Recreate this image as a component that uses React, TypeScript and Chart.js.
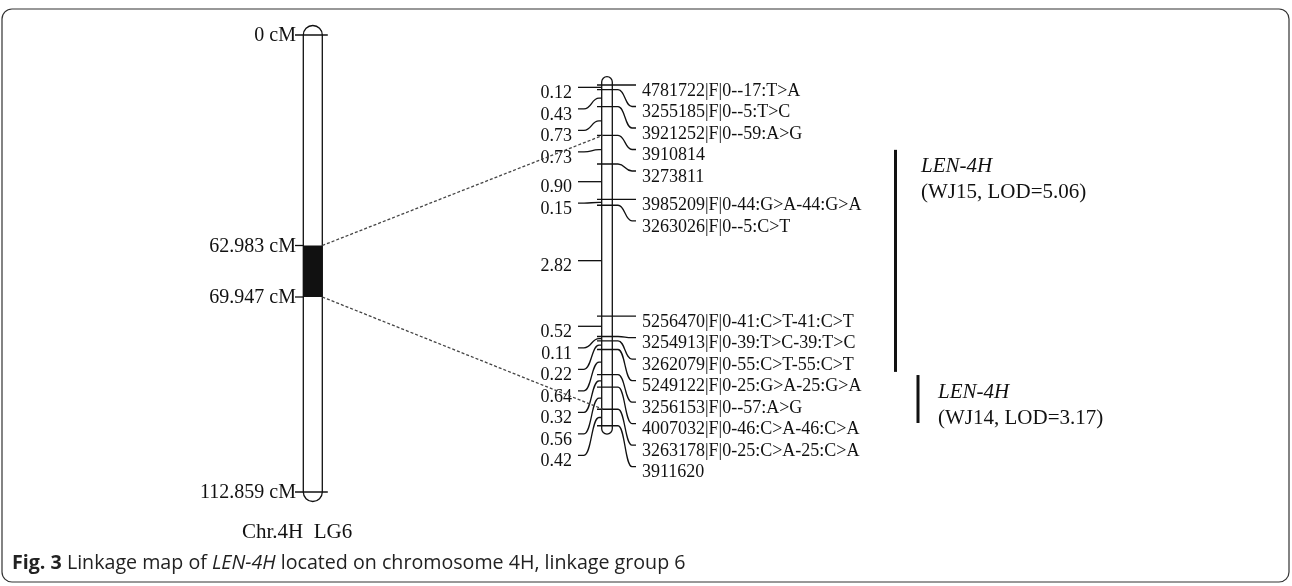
import React, { useEffect, useRef } from "react";
import { Chart, registerables } from "chart.js";

Chart.register(...registerables);

// ---------- DATA ----------
// Interval lengths (cM) between consecutive markers of LG6
const INTERVALS = [0.12, 0.43, 0.73, 0.73, 0.9, 0.15, 2.82, 0.52, 0.11, 0.22, 0.64, 0.32, 0.56, 0.42];
const MARKERS = [
  "4781722|F|0--17:T>A",
  "3255185|F|0--5:T>C",
  "3921252|F|0--59:A>G",
  "3910814",
  "3273811",
  "3985209|F|0-44:G>A-44:G>A",
  "3263026|F|0--5:C>T",
  "5256470|F|0-41:C>T-41:C>T",
  "3254913|F|0-39:T>C-39:T>C",
  "3262079|F|0-55:C>T-55:C>T",
  "5249122|F|0-25:G>A-25:G>A",
  "3256153|F|0--57:A>G",
  "4007032|F|0-46:C>A-46:C>A",
  "3263178|F|0-25:C>A-25:C>A",
  "3911620",
];
// Chromosome 4H ticks (cM) and labels
const CHR_TICKS = [0, 62.983, 69.947, 112.859];
const CHR_TICK_LABELS = ["0 cM", "62.983 cM", "69.947 cM", "112.859 cM"];
const QTL_REGION = [62.983, 69.947];
// markers of LG6 joined to the QTL region by dashed lines
const LINK_MARKERS = [3, 13];
// QTL bars (cM on LG6)
const QTL_WJ15 = [1.65, 7.3];
const QTL_WJ14 = [7.38, 8.6];
const QTL_NAME = "LEN-4H";
const QTL_WJ15_TEXT = "(WJ15, LOD=5.06)";
const QTL_WJ14_TEXT = "(WJ14, LOD=3.17)";
const CHR_TITLE = "Chr.4H  LG6";
const CAPTION_BOLD = "Fig. 3";
const CAPTION_A = " Linkage map of ";
const CAPTION_IT = "LEN-4H";
const CAPTION_B = " located on chromosome 4H, linkage group 6";

// ---------- LAYOUT ----------
const W = 1292;
const H = 586;
const R_TOP = 85; // pixel of 0 cM on LG6
const PX_PER_CM = 39.3;
const R_X = 607;
const R_HALF = 5.3;
const L_X = 312.8;
const L_HALF = 9.5;
const L_TICK_POS = [35, 245.5, 297, 492]; // schematic (non-linear) placement of CHR_TICKS
const GAP = 21.5;
const SERIF = '"Liberation Serif", "Times New Roman", serif';
const SANS = '"Open Sans", "Noto Sans", sans-serif';

const positions: number[] = [0];
INTERVALS.forEach((d, i) => positions.push(+(positions[i] + d).toFixed(3)));

const diagramPlugin = {
  id: "linkageDiagram",
  afterDraw(chart: any) {
    const ctx: CanvasRenderingContext2D = chart.ctx;
    const sx = chart.scales.x;
    const sy = chart.scales.y;
    const sr = chart.scales.yR;
    const X = (v: number) => sx.getPixelForValue(v);
    const Y = (v: number) => sy.getPixelForValue(v);
    const R = (cm: number) => sr.getPixelForValue(cm);
    const LY = (cm: number) => {
      for (let i = 0; i < CHR_TICKS.length - 1; i++) {
        const a = CHR_TICKS[i], b = CHR_TICKS[i + 1];
        if (cm <= b || i === CHR_TICKS.length - 2) {
          const t = (cm - a) / (b - a);
          return Y(L_TICK_POS[i] + t * (L_TICK_POS[i + 1] - L_TICK_POS[i]));
        }
      }
      return Y(L_TICK_POS[0]);
    };

    ctx.save();
    ctx.strokeStyle = "#111";
    ctx.fillStyle = "#111";
    ctx.lineWidth = 1.3;
    ctx.lineCap = "butt";

    // frame
    ctx.beginPath();
    ctx.lineWidth = 1.2;
    ctx.strokeStyle = "#333";
    (ctx as any).roundRect(X(2), Y(9), X(1289) - X(2), Y(582) - Y(9), 10);
    ctx.stroke();
    ctx.strokeStyle = "#111";
    ctx.lineWidth = 1.3;

    // ---- left chromosome ----
    const lTop = LY(CHR_TICKS[0]);
    const lBot = LY(CHR_TICKS[CHR_TICKS.length - 1]);
    const lx0 = X(L_X - L_HALF), lx1 = X(L_X + L_HALF);
    ctx.beginPath();
    ctx.moveTo(lx0, lBot);
    ctx.lineTo(lx0, lTop);
    ctx.arc(X(L_X), lTop, L_HALF, Math.PI, 0);
    ctx.lineTo(lx1, lBot);
    ctx.arc(X(L_X), lBot, L_HALF, 0, Math.PI);
    ctx.stroke();
    // QTL block
    ctx.fillRect(lx0, LY(QTL_REGION[0]), lx1 - lx0, LY(QTL_REGION[1]) - LY(QTL_REGION[0]));
    // ticks + labels
    ctx.font = `20px ${SERIF}`;
    ctx.textAlign = "right";
    ctx.textBaseline = "middle";
    CHR_TICKS.forEach((t, i) => {
      const y = LY(t);
      const full = i === 0 || i === CHR_TICKS.length - 1;
      ctx.beginPath();
      ctx.moveTo(X(295), y);
      ctx.lineTo(full ? X(L_X + 15) : lx0, y);
      ctx.stroke();
      ctx.fillText(CHR_TICK_LABELS[i], X(296), y + 1);
    });
    ctx.font = `21px ${SERIF}`;
    ctx.textAlign = "center";
    ctx.fillText(CHR_TITLE, X(297), Y(532));

    // ---- right chromosome (LG6) ----
    const rTop = R(positions[0]) - 3;
    const rBot = R(positions[positions.length - 1]) + 3;
    const rx0 = X(R_X - R_HALF), rx1 = X(R_X + R_HALF);
    ctx.beginPath();
    ctx.moveTo(rx0, rBot);
    ctx.lineTo(rx0, rTop);
    ctx.arc(X(R_X), rTop, R_HALF, Math.PI, 0);
    ctx.lineTo(rx1, rBot);
    ctx.arc(X(R_X), rBot, R_HALF, 0, Math.PI);
    ctx.stroke();

    // marker labels (right)
    const labelY: number[] = [];
    positions.forEach((p, i) => {
      const my = R(p);
      labelY.push(i === 0 ? my : Math.max(my, labelY[i - 1] + GAP));
    });
    ctx.font = `18px ${SERIF}`;
    ctx.textAlign = "left";
    ctx.textBaseline = "middle";
    positions.forEach((p, i) => {
      const my = R(p), ly = labelY[i];
      const a = X(R_X + 11), b = X(R_X + 25);
      ctx.beginPath();
      ctx.moveTo(X(R_X - 10), my);
      ctx.lineTo(a, my);
      const m = (a + b) / 2;
      ctx.bezierCurveTo(m, my, m, ly, b, ly);
      ctx.lineTo(X(R_X + 29), ly);
      ctx.stroke();
      ctx.fillText(MARKERS[i], X(R_X + 35), ly + 6);
    });

    // interval labels (left)
    const mids = INTERVALS.map((_, i) => (positions[i] + positions[i + 1]) / 2);
    const ilY: number[] = [];
    mids.forEach((m, i) => {
      const y = R(m);
      ilY.push(i === 0 ? y : Math.max(y, ilY[i - 1] + GAP));
    });
    ctx.textAlign = "right";
    mids.forEach((m, i) => {
      const my = R(m), ly = ilY[i];
      const a = X(R_X - 8), b = X(R_X - 23);
      ctx.beginPath();
      ctx.moveTo(X(R_X - 5.5), my);
      ctx.lineTo(a, my);
      const mm = (a + b) / 2;
      ctx.bezierCurveTo(mm, my, mm, ly, b, ly);
      ctx.lineTo(X(R_X - 29), ly);
      ctx.stroke();
      ctx.fillText(INTERVALS[i].toFixed(2), X(R_X - 35), ly + 6);
    });

    // dashed links
    ctx.save();
    ctx.strokeStyle = "#444";
    ctx.lineWidth = 1.3;
    ctx.setLineDash([3, 2]);
    QTL_REGION.forEach((c, i) => {
      ctx.beginPath();
      ctx.moveTo(lx1, LY(c));
      ctx.lineTo(X(R_X - 4), R(positions[LINK_MARKERS[i]]));
      ctx.stroke();
    });
    ctx.restore();

    // QTL bars and text
    const drawQtl = (range: number[], bx: number, tx: number, text: string) => {
      const y0 = R(range[0]), y1 = R(range[1]);
      ctx.fillRect(X(bx - 1.5), y0, 3, y1 - y0);
      ctx.textAlign = "left";
      ctx.textBaseline = "middle";
      ctx.font = `italic 21px ${SERIF}`;
      ctx.fillText(QTL_NAME, X(tx), y0 + 17);
      ctx.font = `21px ${SERIF}`;
      ctx.fillText(text, X(tx), y0 + 43);
    };
    drawQtl(QTL_WJ15, 895.5, 921, QTL_WJ15_TEXT);
    drawQtl(QTL_WJ14, 918, 938, QTL_WJ14_TEXT);

    // caption, fitted to its width in the reference
    const measure = (size: number) => {
      ctx.font = `bold ${size}px ${SANS}`;
      let w = ctx.measureText(CAPTION_BOLD).width;
      ctx.font = `${size}px ${SANS}`;
      w += ctx.measureText(CAPTION_A).width + ctx.measureText(CAPTION_B).width;
      ctx.font = `italic ${size}px ${SANS}`;
      w += ctx.measureText(CAPTION_IT).width;
      return w;
    };
    const size = (100 * (686 - 12)) / measure(100);
    let cx = X(12);
    const cy = Y(563);
    ctx.fillStyle = "#222";
    ctx.textAlign = "left";
    ctx.textBaseline = "middle";
    const parts: [string, string][] = [
      [CAPTION_BOLD, "bold "],
      [CAPTION_A, ""],
      [CAPTION_IT, "italic "],
      [CAPTION_B, ""],
    ];
    parts.forEach(([t, st]) => {
      ctx.font = `${st}${size}px ${SANS}`;
      ctx.fillText(t, cx, cy);
      cx += ctx.measureText(t).width;
    });

    ctx.restore();
  },
};

export default function App() {
  const ref = useRef<HTMLCanvasElement>(null);
  useEffect(() => {
    const canvas = ref.current;
    if (!canvas) return;
    const chart = new Chart(canvas, {
      type: "scatter",
      data: {
        datasets: [
          {
            data: positions.map((p) => ({ x: R_X, y: p })),
            yAxisID: "yR",
            pointRadius: 0,
            showLine: false,
          } as any,
        ],
      },
      options: {
        responsive: false,
        animation: false,
        devicePixelRatio: 1,
        events: [],
        layout: { padding: 0 },
        plugins: { legend: { display: false }, tooltip: { enabled: false } },
        scales: {
          x: { type: "linear", min: 0, max: W, display: false, bounds: "data" },
          y: { type: "linear", min: 0, max: H, reverse: true, display: false, bounds: "data" },
          yR: {
            type: "linear",
            min: -R_TOP / PX_PER_CM,
            max: (H - R_TOP) / PX_PER_CM,
            reverse: true,
            display: false,
            bounds: "data",
          },
        },
      } as any,
      plugins: [diagramPlugin],
    });
    return () => chart.destroy();
  }, []);
  return (
    <div style={{ position: "absolute", left: 0, top: 0, width: W, height: H, background: "#fff" }}>
      <canvas ref={ref} width={W} height={H} style={{ width: W, height: H, display: "block" }} />
    </div>
  );
}
